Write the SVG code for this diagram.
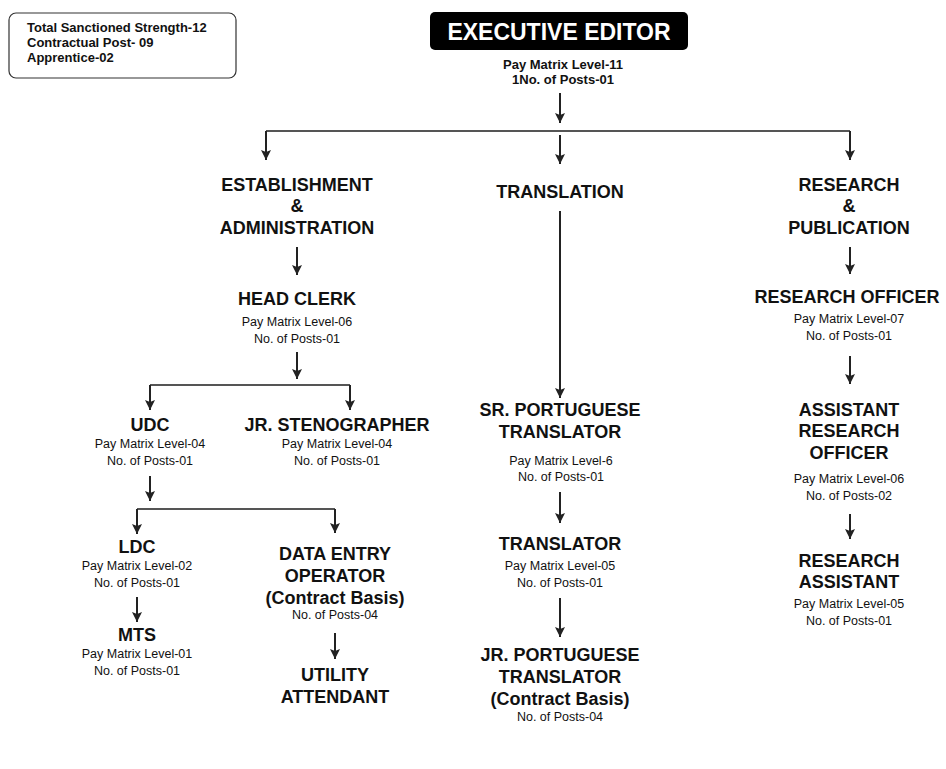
<svg xmlns="http://www.w3.org/2000/svg" width="946" height="769" viewBox="0 0 946 769">
<style>
text{font-family:"Liberation Sans",Arial,sans-serif;fill:#111;text-anchor:middle}
.t{font-size:18px;font-weight:bold}
.s{font-size:12.5px}
.b{font-size:13px;font-weight:bold}
.v{stroke:#222;stroke-width:2;fill:none}
.h{stroke:#555;stroke-width:2;fill:none}
</style>
<defs>
<marker id="a" markerUnits="userSpaceOnUse" markerWidth="10" markerHeight="12" refX="10" refY="5" orient="auto" viewBox="0 0 10 10">
<path d="M0,0 L10,5 L0,10 L2,5 Z" fill="#222"/>
</marker>
</defs>
<rect width="946" height="769" fill="#fff"/>

<g id="summary">
<rect x="9" y="13" width="227" height="65" rx="7" fill="#fff" stroke="#333" stroke-width="1.2"/>
<text class="b" x="27" y="32" style="text-anchor:start">Total Sanctioned Strength-12</text>
<text class="b" x="27" y="47" style="text-anchor:start">Contractual Post- 09</text>
<text class="b" x="27" y="62" style="text-anchor:start">Apprentice-02</text>
</g>

<g id="connectors">
<line class="v" x1="560" y1="93" x2="560" y2="123" marker-end="url(#a)"/>
<polyline class="h" points="266,131 850,131"/>
<line class="v" x1="266" y1="131" x2="266" y2="160" marker-end="url(#a)"/>
<line class="v" x1="560" y1="135" x2="560" y2="164" marker-end="url(#a)"/>
<line class="v" x1="850" y1="131" x2="850" y2="160" marker-end="url(#a)"/>
<line class="v" x1="297" y1="247" x2="297" y2="275" marker-end="url(#a)"/>
<line class="v" x1="297" y1="352" x2="297" y2="379" marker-end="url(#a)"/>
<polyline class="h" points="150,385 350,385"/>
<line class="v" x1="150" y1="385" x2="150" y2="410" marker-end="url(#a)"/>
<line class="v" x1="350" y1="385" x2="350" y2="410" marker-end="url(#a)"/>
<line class="v" x1="150" y1="476" x2="150" y2="501" marker-end="url(#a)"/>
<polyline class="h" points="137,509 335,509"/>
<line class="v" x1="137" y1="509" x2="137" y2="534" marker-end="url(#a)"/>
<line class="v" x1="335" y1="509" x2="335" y2="533" marker-end="url(#a)"/>
<line class="v" x1="137" y1="597" x2="137" y2="622" marker-end="url(#a)"/>
<line class="v" x1="335" y1="633" x2="335" y2="659" marker-end="url(#a)"/>
<line class="v" x1="560" y1="211" x2="560" y2="398" marker-end="url(#a)"/>
<line class="v" x1="560" y1="492" x2="560" y2="523" marker-end="url(#a)"/>
<line class="v" x1="560" y1="598" x2="560" y2="637" marker-end="url(#a)"/>
<line class="v" x1="850" y1="247" x2="850" y2="274" marker-end="url(#a)"/>
<line class="v" x1="850" y1="356" x2="850" y2="384" marker-end="url(#a)"/>
<line class="v" x1="850" y1="514" x2="850" y2="539" marker-end="url(#a)"/>
</g>

<g id="executive-editor">
<rect x="430" y="12" width="258" height="38" rx="5" fill="#000"/>
<text x="559" y="40" style="font-size:23px;font-weight:bold;fill:#fff">EXECUTIVE EDITOR</text>
<text class="b" x="563" y="69">Pay Matrix Level-11</text>
<text class="b" x="563" y="84">1No. of Posts-01</text>
</g>

<g id="establishment">
<text class="t" x="297" y="191">ESTABLISHMENT</text>
<text class="t" x="297" y="212">&amp;</text>
<text class="t" x="297" y="234">ADMINISTRATION</text>
</g>

<g id="translation">
<text class="t" x="560" y="198">TRANSLATION</text>
</g>

<g id="research-publication">
<text class="t" x="849" y="191">RESEARCH</text>
<text class="t" x="849" y="212">&amp;</text>
<text class="t" x="849" y="234">PUBLICATION</text>
</g>

<g id="head-clerk">
<text class="t" x="297" y="305">HEAD CLERK</text>
<text class="s" x="297" y="326">Pay Matrix Level-06</text>
<text class="s" x="297" y="343">No. of Posts-01</text>
</g>

<g id="udc">
<text class="t" x="150" y="431">UDC</text>
<text class="s" x="150" y="448">Pay Matrix Level-04</text>
<text class="s" x="150" y="465">No. of Posts-01</text>
</g>

<g id="jr-stenographer">
<text class="t" x="337" y="431">JR. STENOGRAPHER</text>
<text class="s" x="337" y="448">Pay Matrix Level-04</text>
<text class="s" x="337" y="465">No. of Posts-01</text>
</g>

<g id="ldc">
<text class="t" x="137" y="553">LDC</text>
<text class="s" x="137" y="570">Pay Matrix Level-02</text>
<text class="s" x="137" y="587">No. of Posts-01</text>
</g>

<g id="mts">
<text class="t" x="137" y="641">MTS</text>
<text class="s" x="137" y="658">Pay Matrix Level-01</text>
<text class="s" x="137" y="675">No. of Posts-01</text>
</g>

<g id="data-entry-operator">
<text class="t" x="335" y="560">DATA ENTRY</text>
<text class="t" x="335" y="582">OPERATOR</text>
<text class="t" x="335" y="604">(Contract Basis)</text>
<text class="s" x="335" y="619">No. of Posts-04</text>
</g>

<g id="utility-attendant">
<text class="t" x="335" y="681">UTILITY</text>
<text class="t" x="335" y="703">ATTENDANT</text>
</g>

<g id="sr-portuguese-translator">
<text class="t" x="560" y="416">SR. PORTUGUESE</text>
<text class="t" x="560" y="438">TRANSLATOR</text>
<text class="s" x="561" y="465">Pay Matrix Level-6</text>
<text class="s" x="561" y="481">No. of Posts-01</text>
</g>

<g id="translator">
<text class="t" x="560" y="550">TRANSLATOR</text>
<text class="s" x="560" y="570">Pay Matrix Level-05</text>
<text class="s" x="560" y="587">No. of Posts-01</text>
</g>

<g id="jr-portuguese-translator">
<text class="t" x="560" y="661">JR. PORTUGUESE</text>
<text class="t" x="560" y="683">TRANSLATOR</text>
<text class="t" x="560" y="705">(Contract Basis)</text>
<text class="s" x="560" y="721">No. of Posts-04</text>
</g>

<g id="research-officer">
<text class="t" x="847" y="303">RESEARCH OFFICER</text>
<text class="s" x="849" y="323">Pay Matrix Level-07</text>
<text class="s" x="849" y="340">No. of Posts-01</text>
</g>

<g id="assistant-research-officer">
<text class="t" x="849" y="416">ASSISTANT</text>
<text class="t" x="849" y="437">RESEARCH</text>
<text class="t" x="849" y="459">OFFICER</text>
<text class="s" x="849" y="483">Pay Matrix Level-06</text>
<text class="s" x="849" y="500">No. of Posts-02</text>
</g>

<g id="research-assistant">
<text class="t" x="849" y="567">RESEARCH</text>
<text class="t" x="849" y="588">ASSISTANT</text>
<text class="s" x="849" y="608">Pay Matrix Level-05</text>
<text class="s" x="849" y="625">No. of Posts-01</text>
</g>
</svg>
